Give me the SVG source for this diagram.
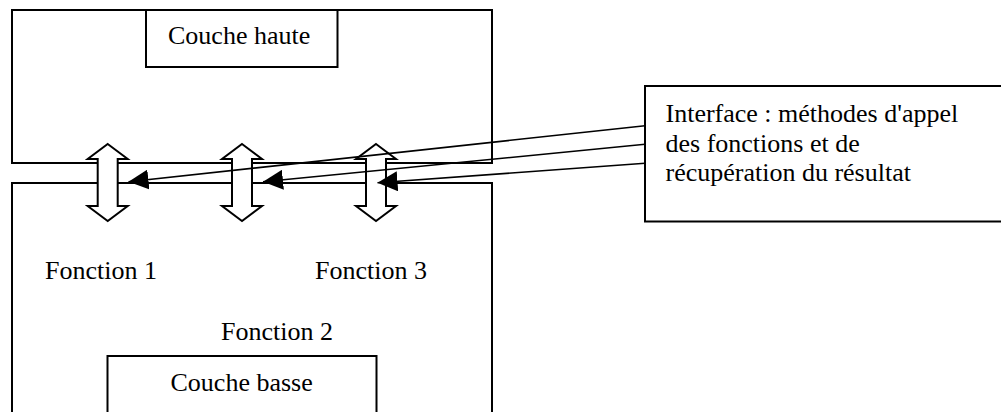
<svg xmlns="http://www.w3.org/2000/svg" width="1001" height="412" viewBox="0 0 1001 412">
  <style>
    .box { fill: #fff; stroke: #000; stroke-width: 2; }
    .lbl { font-family: "Liberation Serif", "Times New Roman", serif; font-size: 26px; fill: #000; }
    .dbl { fill: #fff; stroke: #000; stroke-width: 2; stroke-linejoin: miter; }
    .link { fill: none; stroke: #000; stroke-width: 1.6; }
  </style>
  <defs>
    <!-- vertical two-headed arrow, centred on x=0 -->
    <polygon id="biarrow" class="dbl" points="0,144 20,159 10,159 10,206 20,206 0,221 -20,206 -10,206 -10,159 -20,159"/>
    <marker id="head" viewBox="0 0 20 20" refX="20" refY="10" markerWidth="20" markerHeight="20" markerUnits="userSpaceOnUse" orient="auto">
      <path d="M0,0 L20,10 L0,20 z" fill="#000"/>
    </marker>
  </defs>

  <rect width="1001" height="412" fill="#fff"/>

  <g id="couche-haute-zone">
    <rect class="box" x="12" y="10" width="480" height="153"/>
  </g>
  <g id="couche-haute">
    <rect class="box" x="146" y="10" width="191.5" height="57"/>
    <text class="lbl" x="168" y="44">Couche haute</text>
  </g>

  <g id="couche-basse-zone">
    <rect class="box" x="12" y="183" width="480" height="250"/>
    <text class="lbl" x="45" y="279">Fonction 1</text>
    <text class="lbl" x="315" y="279">Fonction 3</text>
    <text class="lbl" x="221" y="340">Fonction 2</text>
  </g>
  <g id="couche-basse">
    <rect class="box" x="107.5" y="356" width="269" height="80"/>
    <text class="lbl" x="170.5" y="391">Couche basse</text>
  </g>

  <g id="interface">
    <rect class="box" x="645" y="86" width="380" height="135.5"/>
    <text class="lbl" x="665.5" y="122">Interface : méthodes d'appel</text>
    <text class="lbl" x="665.5" y="151.5">des fonctions et de</text>
    <text class="lbl" x="665.5" y="181">récupération du résultat</text>
  </g>

  <g id="appels">
    <use href="#biarrow" x="107.7"/>
    <use href="#biarrow" x="242"/>
    <use href="#biarrow" x="376"/>
  </g>

  <g id="connectors">
    <line class="link" x1="645" y1="125.7" x2="128.5" y2="181.7" marker-end="url(#head)"/>
    <line class="link" x1="645" y1="144.3" x2="263" y2="181.7" marker-end="url(#head)"/>
    <line class="link" x1="645" y1="163.3" x2="377.5" y2="182.7" marker-end="url(#head)"/>
  </g>
</svg>
